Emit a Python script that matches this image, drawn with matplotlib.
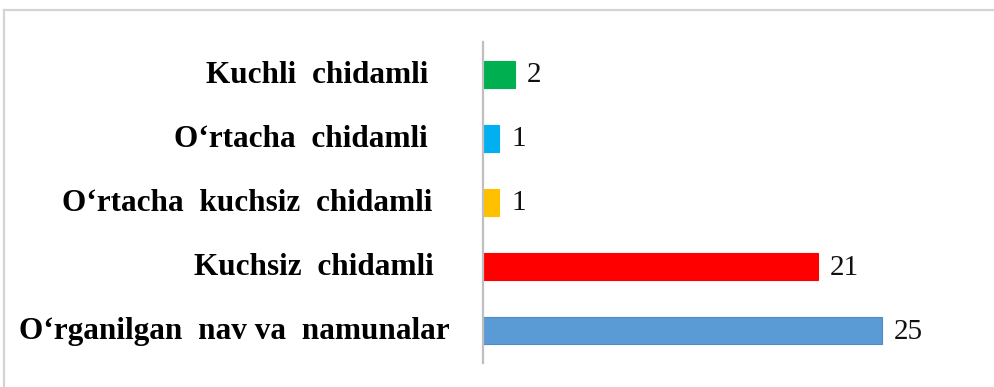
import matplotlib.pyplot as plt
from matplotlib.lines import Line2D

categories = [
    "O\u2018rganilgan  nav va  namunalar",
    "Kuchsiz  chidamli",
    "O\u2018rtacha  kuchsiz  chidamli",
    "O\u2018rtacha  chidamli",
    "Kuchli  chidamli",
]
values = [25, 21, 1, 1, 2]
colors = ["#5B9BD5", "#FF0000", "#FFC000", "#00B0F0", "#00B050"]
edges = ["#4F8CC6", "#FF0000", "#FFC000", "#00B0F0", "#00B050"]

# right edge of each category label, in figure pixels
label_right = [450, 434, 432, 428, 428]

W, H = 994, 387
fig = plt.figure(figsize=(W / 100, H / 100), dpi=100)
ax = fig.add_axes([483 / W, 1 - 363 / H, 415 / W, 321 / H])

pos = list(range(len(values)))
ax.barh(pos, values, height=0.42, color=colors, edgecolor=edges, linewidth=0.8)
ax.set_xlim(0, 26)
ax.set_ylim(-0.5, 4.5)

for s in ["top", "right", "bottom"]:
    ax.spines[s].set_visible(False)
ax.spines["left"].set_color("#BFBFBF")
ax.spines["left"].set_linewidth(1.6)
ax.set_xticks([])
ax.set_yticks([])

for y, v in zip(pos, values):
    ax.annotate(str(v), (v, y), xytext=(12, -1), textcoords="offset pixels",
                ha="left", va="center", fontsize=21,
                family="Liberation Serif", color="#111111")

for y, name, xr in zip(pos, categories, label_right):
    ax.annotate(name, (0, y), xytext=(xr - 483, -1), textcoords="offset pixels",
                ha="right", va="center", fontsize=22.5, fontweight="bold",
                family="Liberation Serif", color="black")

# thin frame along the top and left of the picture
fig.add_artist(Line2D([4 / W, 4 / W], [0, 1 - 10 / H], color="#D4D4D4",
                      linewidth=1.6, transform=fig.transFigure))
fig.add_artist(Line2D([4 / W, 1], [1 - 10 / H, 1 - 10 / H], color="#D4D4D4",
                      linewidth=1.6, transform=fig.transFigure))

fig.savefig("out.png", dpi=100)
